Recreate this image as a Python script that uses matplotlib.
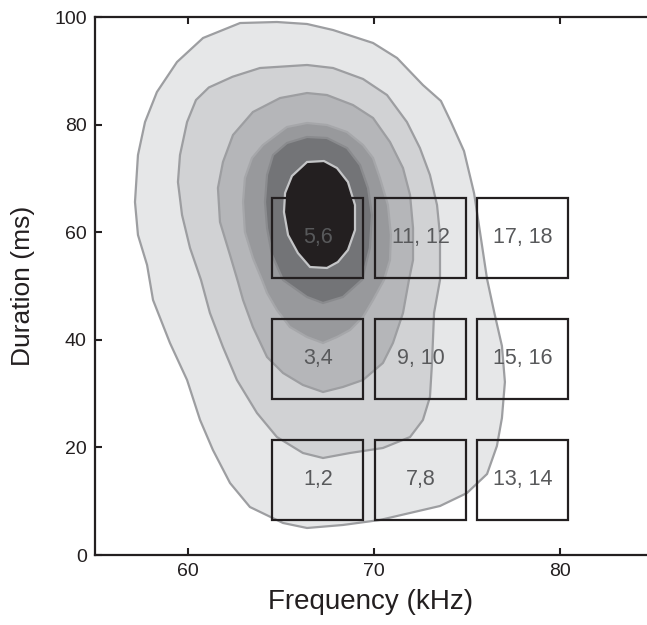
import matplotlib
matplotlib.use('Agg')
import matplotlib.pyplot as plt
from matplotlib.patches import Polygon, Rectangle

plt.rcParams['font.family'] = ['Liberation Sans', 'DejaVu Sans']

# density contours (frequency kHz, duration ms), outermost first
level1 = [(57.15, 65.61), (57.31, 74.35), (57.69, 80.48), (58.33, 86.06), (59.41, 91.64),
          (60.81, 96.10), (62.80, 98.88), (64.78, 99.07), (66.40, 98.70), (67.80, 97.58),
          (69.95, 95.17), (71.24, 92.38), (72.63, 87.36), (73.60, 84.39), (74.14, 80.48),
          (74.84, 75.09), (75.38, 67.29), (75.70, 60.04), (76.08, 51.30), (76.45, 45.35),
          (76.88, 38.85), (77.04, 32.16), (76.88, 25.46), (76.61, 20.26), (76.08, 15.06),
          (75.00, 11.52), (73.55, 9.11), (70.32, 6.51), (68.33, 5.58), (66.40, 5.02),
          (65.11, 5.95), (63.33, 8.92), (62.26, 13.38), (61.34, 19.52), (60.65, 25.09),
          (59.95, 32.53), (59.03, 39.41), (58.12, 47.40), (57.80, 53.90), (57.31, 59.48)]
level2 = [(59.46, 69.33), (59.57, 74.35), (59.95, 80.48), (60.43, 84.57), (61.12, 86.90),
          (62.40, 88.90), (63.87, 90.52), (66.40, 91.08), (67.80, 90.52), (69.41, 88.48),
          (70.70, 85.50), (71.77, 80.48), (72.47, 75.65), (73.01, 70.63), (73.39, 65.06),
          (73.55, 59.48), (73.55, 51.12), (73.23, 44.98), (73.12, 35.69), (73.01, 29.37),
          (72.63, 25.09), (71.94, 21.93), (70.48, 19.89), (68.71, 18.96), (67.26, 18.03),
          (66.18, 18.96), (64.78, 21.93), (63.71, 26.39), (62.63, 32.53), (61.88, 38.66),
          (61.18, 44.98), (60.70, 51.12), (60.11, 57.06), (59.68, 63.20)]
level3 = [(61.61, 68.22), (61.88, 73.05), (62.42, 78.07), (63.49, 82.34), (64.95, 84.94),
          (66.40, 85.87), (67.47, 85.50), (68.87, 83.64), (69.95, 81.23), (70.86, 76.77),
          (71.56, 71.93), (71.94, 66.91), (72.10, 60.78), (72.10, 54.83), (71.88, 51.12),
          (71.56, 44.98), (71.02, 39.41), (70.48, 35.69), (69.41, 32.53), (68.33, 31.23),
          (67.26, 30.30), (66.18, 31.60), (65.11, 33.83), (64.25, 36.80), (63.49, 42.38),
          (62.96, 47.40), (62.69, 50.74), (62.26, 55.76), (61.72, 61.90)]
level4 = [(62.96, 65.61), (63.06, 70.07), (63.44, 73.79), (64.03, 76.21), (65.32, 79.55),
          (66.40, 80.30), (67.47, 79.93), (68.55, 78.62), (69.41, 76.21), (69.95, 73.79),
          (70.32, 70.07), (70.75, 65.06), (70.91, 59.48), (70.86, 54.83), (70.54, 51.12),
          (69.95, 47.40), (69.41, 44.24), (68.71, 41.82), (68.01, 40.52), (67.26, 39.41),
          (66.40, 40.52), (65.48, 42.38), (64.78, 45.54), (64.25, 48.70), (63.98, 51.12),
          (63.49, 55.20), (63.06, 60.04)]
level5 = [(64.14, 65.61), (64.25, 70.63), (64.57, 74.35), (65.32, 76.58), (66.40, 77.70),
          (67.47, 77.51), (68.55, 75.65), (69.25, 72.49), (69.68, 68.22), (69.89, 63.20),
          (69.78, 57.06), (69.35, 51.12), (68.33, 47.96), (67.26, 46.84), (66.40, 47.96),
          (65.11, 51.12), (64.52, 55.76), (64.25, 60.78)]
level6 = [(66.40, 73.05), (67.31, 73.23), (68.01, 71.93), (68.60, 69.33), (68.98, 65.06),
          (68.98, 60.41), (68.60, 56.69), (68.06, 54.46), (67.47, 53.35), (66.56, 53.53),
          (65.91, 56.13), (65.38, 59.48), (65.16, 63.75), (65.22, 67.29), (65.59, 70.45)]

# stimulus boxes: frequency and duration ranges
box_freq_lo = [64.54, 70.05, 75.54]
box_freq_hi = [69.43, 74.95, 80.43]
box_dur_lo = [6.5, 29.0, 51.5]
box_dur_hi = [21.4, 43.9, 66.4]
box_labels = [['1,2', '7,8', '13, 14'],
              ['3,4', '9, 10', '15, 16'],
              ['5,6', '11, 12', '17, 18']]

fills = ['#e6e7e8', '#d1d2d4', '#b5b6b9', '#98999c', '#737477', '#231f20']
edges = ['#9d9ea1', '#9d9ea1', '#9d9ea1', '#a6a7aa', '#8a8b8e', '#c4c5c7']

fig = plt.figure(figsize=(6.47, 6.25), dpi=100)
ax = fig.add_axes([95 / 647, 70 / 625, 552 / 647, 538 / 625])

for pts, fc, ec in zip([level1, level2, level3, level4, level5, level6], fills, edges):
    ax.add_patch(Polygon(pts, closed=True, facecolor=fc, edgecolor=ec, lw=1.6, zorder=1))

for r in range(3):
    for c in range(3):
        x0, x1 = box_freq_lo[c], box_freq_hi[c]
        y0, y1 = box_dur_lo[r], box_dur_hi[r]
        ax.add_patch(Rectangle((x0, y0), x1 - x0, y1 - y0, fill=False,
                               edgecolor='#231f20', lw=1.6, zorder=3))
        ax.text((x0 + x1) / 2, (y0 + y1) / 2, box_labels[r][c], ha='center', va='center',
                fontsize=15.5, color='#58595b', zorder=4)

ax.set_xlim(55, 84.68)
ax.set_ylim(0, 100)
ax.set_xticks([60, 70, 80])
ax.set_yticks([0, 20, 40, 60, 80, 100])
ax.tick_params(direction='in', length=5, width=1.5, labelsize=14, colors='#231f20',
               top=True, right=False, pad=6)
ax.spines['right'].set_visible(False)
for s in ['left', 'bottom', 'top']:
    ax.spines[s].set_linewidth(1.6)
    ax.spines[s].set_color('#231f20')
ax.set_xlabel('Frequency (kHz)', fontsize=20, color='#231f20', labelpad=6)
ax.set_ylabel('Duration (ms)', fontsize=19, color='#231f20', labelpad=14)

fig.savefig('out.png', dpi=100)
